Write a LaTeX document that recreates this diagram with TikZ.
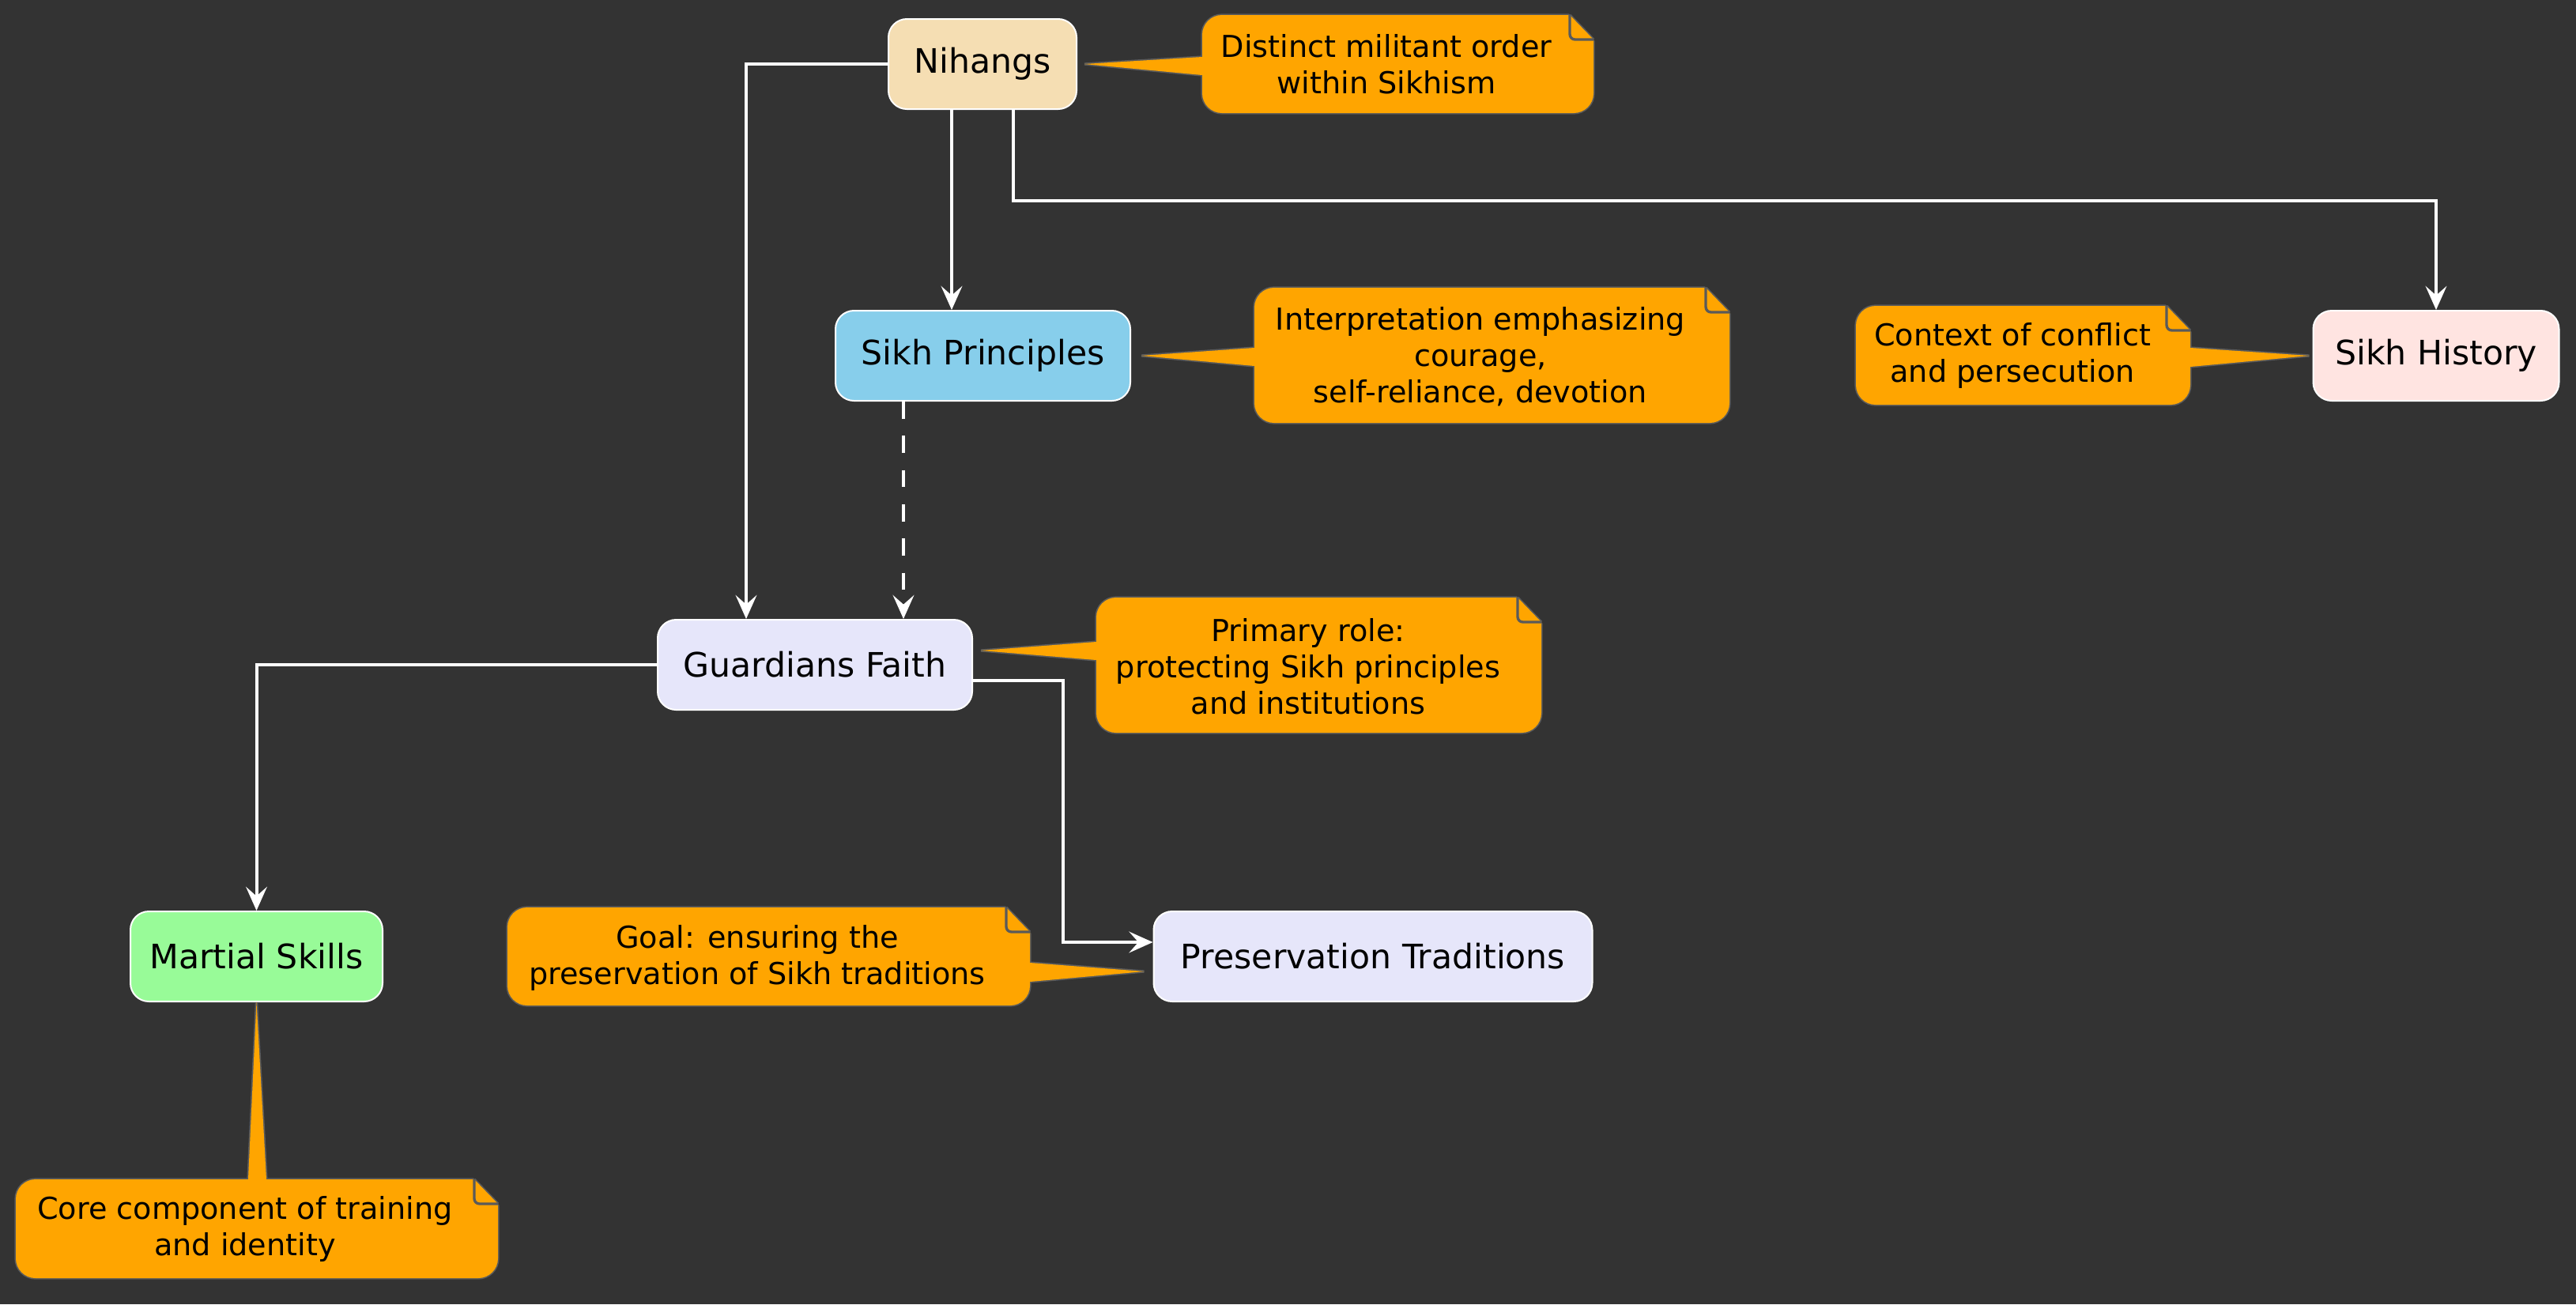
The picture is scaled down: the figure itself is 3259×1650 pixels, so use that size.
\documentclass[tikz,border=0pt]{standalone}
\usepackage{fontspec}
\setmainfont{DejaVu Sans}
\usetikzlibrary{arrows.meta,calc}
\definecolor{bgc}{HTML}{333333}
\definecolor{wheatc}{HTML}{F5DEB3}
\definecolor{skyc}{HTML}{87CEEB}
\definecolor{rosec}{HTML}{FFE4E1}
\definecolor{lavc}{HTML}{E6E6FA}
\definecolor{greenc}{HTML}{98FB98}
\definecolor{notefillc}{HTML}{FFA500}
\definecolor{notelinec}{HTML}{5A5A5A}
\newcommand\notebox[7]{%
  \draw[noteline, rounded corners=7.5pt] (#1,#2) rectangle (#3,#4);
  \draw[noteline] (#6) -- (#5) -- (#7);
  \fill[notefillc, rounded corners=7.5pt] (#1,#2) rectangle (#3,#4);
  \fill[notefillc] (#6) -- (#5) -- (#7) -- cycle;
  \fill[bgc] (#3-33,#2-4) -- (#3+4,#2-4) -- (#3+4,#2+35) -- cycle;
  \draw[noteline] (#3-30,#2) -- (#3,#2+31);
  \fill[notefillc] (#3-30,#2) -- (#3-30,#2+31) -- (#3,#2+31) -- cycle;
  \draw[noteline, rounded corners=2pt] (#3-30,#2) -- (#3-30,#2+31) -- (#3,#2+31);
}
\begin{document}
\begin{tikzpicture}[x=0.3pt,y=-0.3pt,
  box/.style={draw=white, line width=0.6pt, rounded corners=7pt, inner sep=0pt,
    minimum height=34.2pt, font=\fontsize{12.78}{15}\selectfont, text=black},
  ntext/.style={align=center, inner sep=0pt, font=\fontsize{11.46}{13.8}\selectfont, text=black},
  noteline/.style={draw=notelinec, line width=1pt},
  conn/.style={draw=white, line width=1.2pt, -{Stealth[length=9pt,width=8pt,inset=3.5pt]}},
]
\fill[bgc] (0,0) rectangle (3259,1650);
\useasboundingbox (0,0) rectangle (3259,1650);

% nodes
\node[box, fill=wheatc, minimum width=71.4pt] (nih) at (1243,81) {Nihangs};
\node[box, fill=skyc, minimum width=111.9pt] (sp) at (1243.5,450) {Sikh Principles};
\node[box, fill=rosec, minimum width=93.3pt] (sh) at (3082,450) {Sikh History};
\node[box, fill=lavc, minimum width=119.4pt] (gf) at (1031,841) {Guardians Faith};
\node[box, fill=lavc, minimum width=166.5pt] (pt) at (1737,1210) {Preservation Traditions};
\node[box, fill=greenc, minimum width=95.7pt] (ms) at (324.5,1210) {Martial Skills};

% connectors
\draw[conn] (nih.west) -| ([xshift=-26.1pt]gf.north);
\coordinate (a2) at ([xshift=-11.7pt]nih.south);
\draw[conn] (a2) -- (a2 |- sp.north);
\coordinate (a3) at ([xshift=11.7pt]nih.south);
\coordinate (k3) at (3082,254);
\draw[conn] (a3) |- (k3) -- (sh.north);
\coordinate (a4) at ([xshift=-30.15pt]sp.south);
\draw[conn, dash pattern=on 6.5pt off 6.5pt] (a4) -- (a4 |- gf.north);
\draw[conn] (gf.west) -| (ms.north);
\coordinate (a6) at ([yshift=-6pt]gf.east);
\coordinate (k6) at (1345,1192);
\draw[conn] (a6) -| (k6) -- (k6 -| pt.west);

% notes
\notebox{1521}{19}{2016}{143}{[xshift=2.7pt]nih.east}{1521,72}{1521,95}
\node[ntext] (n1) at (1754,81) {Distinct militant order\\within Sikhism};
\notebox{1587}{364}{2188}{535}{[xshift=3.9pt]sp.east}{1587,440}{1587,463}
\node[ntext] (n2) at (1873,451) {Interpretation emphasizing\\courage,\\self-reliance, devotion};
\notebox{2348}{387}{2771}{512}{[xshift=-1.2pt]sh.west}{2771,440}{2771,464}
\node[ntext] (n3) at (2546,450) {Context of conflict\\and persecution};
\notebox{1387}{756}{1950}{927}{[xshift=3pt,yshift=5.4pt]gf.east}{1387,812}{1387,835}
\node[ntext] (n4) at (1655,843) {Primary role:\\protecting Sikh principles\\and institutions};
\notebox{642}{1148}{1303}{1272}{[xshift=-3.3pt,yshift=-5.7pt]pt.west}{1303,1218}{1303,1242}
\node[ntext] (n5) at (958,1212) {Goal: ensuring the\\preservation of Sikh traditions};
\notebox{20}{1492}{630}{1617}{ms.south}{314,1492}{337,1492}
\node[ntext] (n6) at (310,1555) {Core component of training\\and identity};
\end{tikzpicture}
\end{document}
